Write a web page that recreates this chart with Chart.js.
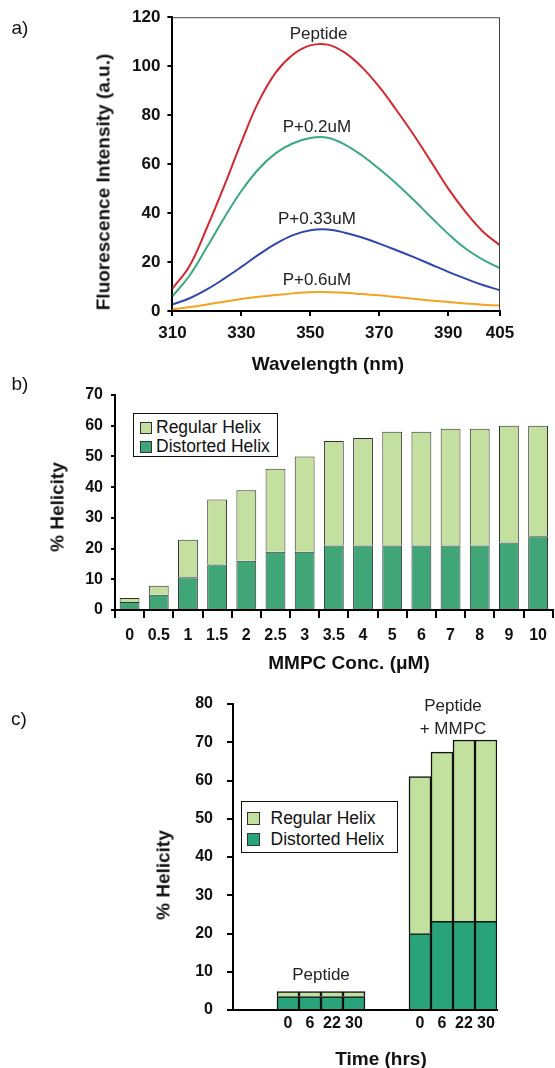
<!DOCTYPE html>
<html>
<head>
<meta charset="utf-8">
<script src="https://cdn.jsdelivr.net/npm/chart.js@4.4.1/dist/chart.umd.min.js"></script>
<style>
  html,body{margin:0;padding:0;background:#fff;}
  body{width:555px;height:1068px;position:relative;overflow:hidden;font-family:"Liberation Sans",Arial,sans-serif;color:#111;}
  canvas{position:absolute;left:0;}
  .t{position:absolute;white-space:nowrap;line-height:1;transform:translate(-50%,-50%);}
  .ax{font-weight:bold;font-size:19px;}
  .rot{transform:translate(-50%,-50%) rotate(-90deg);}
  .pl{font-size:19px;}
  .legend{position:absolute;background:#fff;box-sizing:border-box;font-size:17.5px;}
  .legend .row{display:flex;align-items:center;white-space:nowrap;}
  .legend .sw{display:inline-block;box-sizing:border-box;border:1px solid #333;}
</style>
</head>
<body>
<canvas id="ca" width="555" height="375" style="top:0"></canvas>
<canvas id="cb" width="555" height="300" style="top:375px"></canvas>
<canvas id="cc" width="555" height="393" style="top:675px"></canvas>

<div class="t pl" style="left:20px;top:27px">a)</div>
<div class="t pl" style="left:20px;top:383px">b)</div>
<div class="t pl" style="left:19px;top:718px">c)</div>

<div class="t ax" style="left:328px;top:363px">Wavelength (nm)</div>
<div class="t ax rot" style="left:103px;top:182px">Fluorescence Intensity (a.u.)</div>
<div class="t ax" style="left:349px;top:662px">MMPC Conc. (μM)</div>
<div class="t ax rot" style="left:57px;top:507px">% Helicity</div>
<div class="t ax" style="left:381px;top:1058px">Time (hrs)</div>
<div class="t ax rot" style="left:163px;top:875px">% Helicity</div>

<div id="legB" class="legend" style="left:133px;top:413px;width:145px;height:44px;border:1px solid #111;padding:4px 0 0 6px;"></div>
<div id="legC" class="legend" style="left:241px;top:801px;width:157px;height:52px;border:1.5px solid #111;padding:6px 0 0 4.5px;"></div>

<script>
// ---------- Panel a: fluorescence spectra ----------
const wavelengths = [310,315,320,325,330,335,340,345,350,355,360,365,370,375,380,385,390,395,400,405];
const peptideSpec = [9.1,18.5,34,51,69,85.5,97.5,104.8,108.5,108.8,105.5,99.5,91.5,82,71.9,61,50,40.5,32.5,26.8];
const p02Spec     = [6,14.5,26,38,49,58,64.5,68.5,70.7,70.8,68,63.5,58,52,45.3,38.3,31.5,25.5,21,17.5];
const p033Spec    = [2.7,5.2,8.8,13.2,18,23,27.5,31,33,33.3,32,30,27.5,24.8,22,19,16,13.2,10.6,8.5];
const p06Spec     = [0.7,1.6,2.7,3.8,4.9,5.8,6.5,7.2,7.7,7.7,7.5,6.9,6.4,5.7,5,4.3,3.7,3.1,2.6,2.2];
const xTicksA = [310,330,350,370,390,405];
const curveLabels = [
  {text:'Peptide',  x:352.4, y:113.1},
  {text:'P+0.2uM',  x:351.9, y:75},
  {text:'P+0.33uM', x:351.9, y:37.4},
  {text:'P+0.6uM',  x:351.9, y:12.6}
];

// ---------- Panel b: helicity vs MMPC concentration ----------
const concLabels = ['0','0.5','1','1.5','2','2.5','3','3.5','4','5','6','7','8','9','10'];
const distortedB = [2.6,5,10.7,14.8,16,19,19,21,21,21,21,21,21,22,24];
const regularB   = [1.3,2.9,12.2,21.2,23,27,31,34,35,37,37,38,38,38,36];

// ---------- Panel c: helicity vs time ----------
const timeLabels = ['0','6','22','30'];
const peptideDistorted = [3.5,3.5,3.5,3.5];
const peptideRegular   = [1.3,1.3,1.3,1.3];
const mmpcDistorted    = [20,23.2,23.2,23.2];
const mmpcRegular      = [41,44.2,47.4,47.4];
const groupLabels = [
  {lines:['Peptide'], y:[9.15]},
  {lines:['Peptide','+ MMPC'], y:[79.5,73.5]}
];

Chart.defaults.font.family = "'Liberation Sans', Arial, sans-serif";
Chart.defaults.color = '#111';
Chart.defaults.animation = false;

const tickFont = {size:16, weight:'bold'};
const tickFontA = {size:17, weight:'bold'};
const axisBorder = {display:true, color:'#000', width:2};

// Panel a
const frame = {
  id:'frame',
  afterDraw(chart){
    const {ctx, chartArea:a} = chart;
    ctx.save();
    ctx.strokeStyle = '#444'; ctx.lineWidth = 1;
    ctx.beginPath();
    ctx.moveTo(a.left, a.top+0.5); ctx.lineTo(a.right-0.5, a.top+0.5); ctx.lineTo(a.right-0.5, a.bottom);
    ctx.stroke();
    ctx.restore();
  }
};
const curveText = {
  id:'curveText',
  afterDatasetsDraw(chart){
    const {ctx} = chart, xs = chart.scales.x, ys = chart.scales.y;
    ctx.save();
    ctx.font = "17px 'Liberation Sans', Arial, sans-serif";
    ctx.fillStyle = '#222'; ctx.textAlign = 'center'; ctx.textBaseline = 'middle';
    curveLabels.forEach(l => ctx.fillText(l.text, xs.getPixelForValue(l.x), ys.getPixelForValue(l.y)));
    ctx.restore();
  }
};
function series(vals){ return wavelengths.map((w,i)=>({x:w, y:vals[i]})); }
function lineDs(label, vals, color){
  return {label, data:series(vals), borderColor:color, backgroundColor:color, borderWidth:2,
          pointRadius:0, tension:0.4, fill:false};
}
new Chart(document.getElementById('ca'), {
  type:'line',
  data:{datasets:[
    lineDs('Peptide', peptideSpec, '#d22a30'),
    lineDs('P+0.2uM', p02Spec, '#3aa97e'),
    lineDs('P+0.33uM', p033Spec, '#2f48ad'),
    lineDs('P+0.6uM', p06Spec, '#f4a320')
  ]},
  options:{
    responsive:false,
    layout:{padding:{top:16,right:55,left:0,bottom:0}},
    plugins:{legend:{display:false}, tooltip:{enabled:false}},
    scales:{
      x:{type:'linear', min:310, max:405,
         afterBuildTicks:s=>{ s.ticks = xTicksA.map(v=>({value:v})); },
         grid:{drawOnChartArea:false, tickLength:5, color:'#000', lineWidth:2},
         border:axisBorder,
         ticks:{font:tickFontA, color:'#111', padding:7, maxRotation:0, autoSkip:false},
         afterFit:s=>{ s.height = 64; }},
      y:{min:0, max:120,
         ticks:{stepSize:20, font:tickFontA, color:'#111', padding:7},
         grid:{drawOnChartArea:false, tickLength:5, color:'#000', lineWidth:2},
         border:axisBorder,
         afterFit:s=>{ s.width = 172.4; }}
    }
  },
  plugins:[frame, curveText]
});

// Panel b
const lightB = '#c4e0a0', darkB = '#40a678';
const chartB = new Chart(document.getElementById('cb'), {
  type:'bar',
  data:{labels:concLabels, datasets:[
    {label:'Distorted Helix', data:distortedB, backgroundColor:darkB, borderColor:'#333', borderWidth:1},
    {label:'Regular Helix', data:regularB, backgroundColor:lightB, borderColor:'#333', borderWidth:1}
  ]},
  options:{
    responsive:false,
    layout:{padding:{top:20,right:0,left:0,bottom:0}},
    datasets:{bar:{barPercentage:0.85, categoryPercentage:0.8}},
    plugins:{legend:{display:false}, tooltip:{enabled:false}},
    scales:{
      x:{stacked:true,
         grid:{offset:true, drawOnChartArea:false, tickLength:8, color:'#000', lineWidth:2},
         border:axisBorder,
         ticks:{font:tickFont, color:'#111', padding:8, maxRotation:0, autoSkip:false},
         afterFit:s=>{ s.height = 65; }},
      y:{stacked:true, min:0, max:70,
         ticks:{stepSize:10, font:tickFont, color:'#111', padding:8},
         grid:{drawOnChartArea:false, tickLength:4, color:'#000', lineWidth:2},
         border:axisBorder,
         afterFit:s=>{ s.width = 115; }}
    }
  }
});

// Panel c
const lightC = '#c2e09e', darkC = '#28a37a';
const gap2 = ['', ''];
const catC = [...gap2, ...timeLabels, ...gap2, ...timeLabels];
const nul2 = [null, null];
const groupText = {
  id:'groupText',
  afterDatasetsDraw(chart){
    const {ctx} = chart, xs = chart.scales.x, ys = chart.scales.y;
    ctx.save();
    ctx.font = "17px 'Liberation Sans', Arial, sans-serif";
    ctx.fillStyle = '#222'; ctx.textAlign = 'center'; ctx.textBaseline = 'middle';
    const centers = [
      (xs.getPixelForValue(2) + xs.getPixelForValue(5))/2,
      (xs.getPixelForValue(8) + xs.getPixelForValue(11))/2
    ];
    groupLabels.forEach((g,gi)=> g.lines.forEach((t,li)=> ctx.fillText(t, centers[gi], ys.getPixelForValue(g.y[li]))));
    ctx.restore();
  }
};
const chartC = new Chart(document.getElementById('cc'), {
  type:'bar',
  data:{labels:catC, datasets:[
    {label:'Distorted Helix', data:[...nul2, ...peptideDistorted, ...nul2, ...mmpcDistorted],
     backgroundColor:darkC, borderColor:'#111', borderWidth:1.5},
    {label:'Regular Helix', data:[...nul2, ...peptideRegular, ...nul2, ...mmpcRegular],
     backgroundColor:lightC, borderColor:'#111', borderWidth:1.5}
  ]},
  options:{
    responsive:false,
    layout:{padding:{top:29,right:58,left:0,bottom:0}},
    datasets:{bar:{barPercentage:1, categoryPercentage:1}},
    plugins:{legend:{display:false}, tooltip:{enabled:false}},
    scales:{
      x:{stacked:true,
         grid:{display:false, drawTicks:false, tickLength:0},
         border:axisBorder,
         ticks:{font:tickFont, color:'#111', padding:4, maxRotation:0, autoSkip:false},
         afterFit:s=>{ s.height = 58; }},
      y:{stacked:true, min:0, max:80,
         ticks:{stepSize:10, font:tickFont, color:'#111', padding:14},
         grid:{drawOnChartArea:false, tickLength:6, color:'#000', lineWidth:2},
         border:axisBorder,
         afterFit:s=>{ s.width = 233; }}
    }
  },
  plugins:[groupText]
});

// HTML legends built from the chart datasets
function buildLegend(chart, el, rowH, swSize, gap){
  chart.data.datasets.slice().reverse().forEach(ds=>{
    const row = document.createElement('div');
    row.className = 'row'; row.style.height = rowH + 'px';
    const sw = document.createElement('span');
    sw.className = 'sw';
    sw.style.width = swSize + 'px'; sw.style.height = swSize + 'px';
    sw.style.background = ds.backgroundColor;
    sw.style.marginRight = gap + 'px';
    const tx = document.createElement('span');
    tx.textContent = ds.label;
    row.appendChild(sw); row.appendChild(tx);
    el.appendChild(row);
  });
}
buildLegend(chartB, document.getElementById('legB'), 19, 12, 4);
buildLegend(chartC, document.getElementById('legC'), 21, 13, 11);
</script>
</body>
</html>
